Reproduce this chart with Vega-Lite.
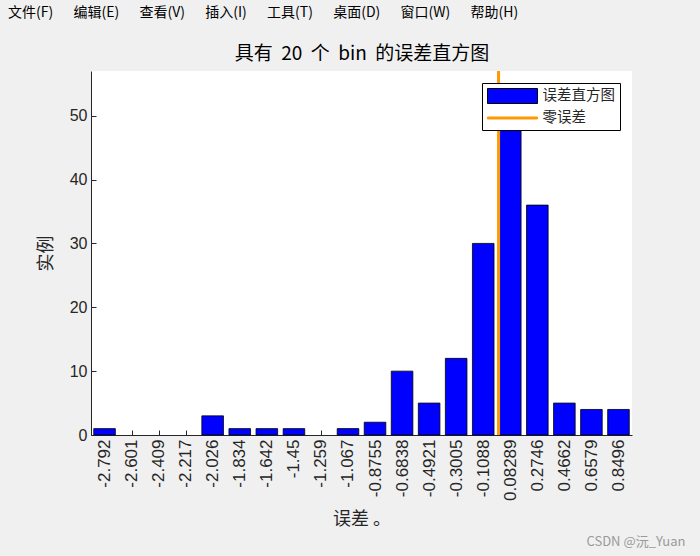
{
  "$schema": "https://vega.github.io/schema/vega-lite/v6.json",
  "autosize": {"type": "none"},
  "width": 541,
  "height": 364,
  "padding": {"left": 91, "top": 71, "right": 68, "bottom": 121},
  "background": "#f0f0f0",
  "view": {"fill": "white", "stroke": null},
  "title": {
    "text": "文件(F)\u2003\u00a0\u00a0编辑(E)\u2003\u00a0\u00a0查看(V)\u2003\u00a0\u00a0插入(I)\u2003\u00a0\u00a0工具(T)\u2003\u00a0\u00a0桌面(D)\u2003\u00a0\u00a0窗口(W)\u2003\u00a0\u00a0帮助(H)",
    "anchor": "start",
    "frame": "group",
    "dx": -83,
    "offset": 24,
    "font": "Noto Sans CJK SC",
    "fontSize": 14,
    "fontWeight": "normal",
    "color": "black"
  },
  "config": {
    "axis": {
      "domainColor": "#262626",
      "tickColor": "#262626",
      "labelColor": "#262626",
      "titleColor": "#262626",
      "labelFont": "Liberation Sans",
      "labelFontSize": 16,
      "titleFont": "Noto Sans CJK SC",
      "titleFontSize": 18,
      "titleFontWeight": "normal",
      "grid": false
    }
  },
  "resolve": {"axis": {"x": "independent"}},
  "layer": [
    {
      "data": {
        "values": [
          {"center": -2.792, "count": 1},
          {"center": -2.601, "count": 0},
          {"center": -2.409, "count": 0},
          {"center": -2.217, "count": 0},
          {"center": -2.026, "count": 3},
          {"center": -1.834, "count": 1},
          {"center": -1.642, "count": 1},
          {"center": -1.45, "count": 1},
          {"center": -1.259, "count": 0},
          {"center": -1.067, "count": 1},
          {"center": -0.8755, "count": 2},
          {"center": -0.6838, "count": 10},
          {"center": -0.4921, "count": 5},
          {"center": -0.3005, "count": 12},
          {"center": -0.1088, "count": 30},
          {"center": 0.08289, "count": 53},
          {"center": 0.2746, "count": 36},
          {"center": 0.4662, "count": 5},
          {"center": 0.6579, "count": 4},
          {"center": 0.8496, "count": 4}
        ]
      },
      "transform": [{"filter": "datum.count > 0"}],
      "mark": {"type": "bar", "size": 21.6, "fill": "blue", "stroke": "black", "strokeWidth": 0.8},
      "encoding": {
        "x": {
          "field": "center",
          "type": "quantitative",
          "scale": {"domain": [-2.888, 0.9454], "nice": false, "zero": false, "padding": 0},
          "axis": {
            "orient": "bottom",
            "values": [-2.792, -2.601, -2.409, -2.217, -2.026, -1.834, -1.642, -1.45, -1.259, -1.067, -0.8755, -0.6838, -0.4921, -0.3005, -0.1088, 0.08289, 0.2746, 0.4662, 0.6579, 0.8496],
            "labelExpr": "'' + datum.value",
            "labelAngle": -90,
            "labelAlign": "right",
            "labelBaseline": "middle",
            "labelFontSize": 17,
            "labelPadding": 9,
            "tickSize": -5,
            "labelOverlap": false,
            "title": "误差 。",
            "titlePadding": 10
          }
        },
        "y": {
          "field": "count",
          "type": "quantitative",
          "scale": {"domain": [0, 57], "nice": false},
          "axis": {
            "values": [0, 10, 20, 30, 40, 50],
            "tickSize": -5,
            "labelPadding": 9,
            "title": "实例",
            "titlePadding": 14
          }
        }
      }
    },
    {
      "data": {"values": [{"zero": 0}]},
      "mark": {"type": "rule", "strokeWidth": 3, "stroke": "#ff9900"},
      "encoding": {
        "x": {
          "field": "zero",
          "type": "quantitative",
          "scale": {"domain": [-2.888, 0.9454], "nice": false, "zero": false, "padding": 0},
          "axis": {
            "orient": "top",
            "labels": false,
            "ticks": false,
            "domain": false,
            "title": "具有\u00a0\u00a020\u00a0\u00a0个\u00a0\u00a0bin\u00a0\u00a0的误差直方图",
            "titleFontSize": 19,
            "titleColor": "black",
            "titlePadding": 8
          }
        }
      }
    },
    {
      "data": {"values": [{"series": "误差直方图"}, {"series": "零误差"}]},
      "mark": {"type": "point", "opacity": 0},
      "encoding": {
        "fill": {
          "field": "series",
          "type": "nominal",
          "scale": {"domain": ["误差直方图", "零误差"], "range": ["blue", "#ff9900"]},
          "legend": {
            "orient": "top-right",
            "offset": 12,
            "title": null,
            "fillColor": "white",
            "strokeColor": "black",
            "padding": 5,
            "symbolSize": 225,
            "symbolOffset": 17.5,
            "symbolOpacity": 1,
            "symbolStrokeWidth": 1,
            "labelOffset": 22,
            "rowPadding": 4,
            "labelFont": "Noto Sans CJK SC",
            "labelFontSize": 14.5,
            "labelColor": "#262626"
          }
        },
        "stroke": {
          "field": "series",
          "type": "nominal",
          "scale": {"domain": ["误差直方图", "零误差"], "range": ["black", "#ff9900"]},
          "legend": {
            "orient": "top-right",
            "offset": 12,
            "title": null,
            "symbolOpacity": 1
          }
        },
        "shape": {
          "field": "series",
          "type": "nominal",
          "scale": {"domain": ["误差直方图", "零误差"], "range": ["M-3.333,-1H3.333V1H-3.333Z", "M-3.333,-0.133H3.333V0.133H-3.333Z"]},
          "legend": {
            "orient": "top-right",
            "offset": 12,
            "title": null,
            "symbolOpacity": 1
          }
        }
      }
    },
    {
      "data": {"values": [{"zero": 0}]},
      "mark": {"type": "rule", "strokeOpacity": 0},
      "encoding": {
        "x": {
          "field": "zero",
          "type": "quantitative",
          "scale": {"domain": [-2.888, 0.9454], "nice": false, "zero": false, "padding": 0},
          "axis": {
            "orient": "bottom",
            "labels": false,
            "ticks": false,
            "domain": false,
            "title": "CSDN @沅_Yuan",
            "titleFont": "Noto Sans CJK SC",
            "titleFontSize": 13,
            "titleColor": "#9a9a9a",
            "titleAlign": "right",
            "titleAnchor": "end",
            "titleX": 594,
            "titleY": 110,
            "titleBaseline": "alphabetic"
          }
        }
      }
    }
  ]
}
